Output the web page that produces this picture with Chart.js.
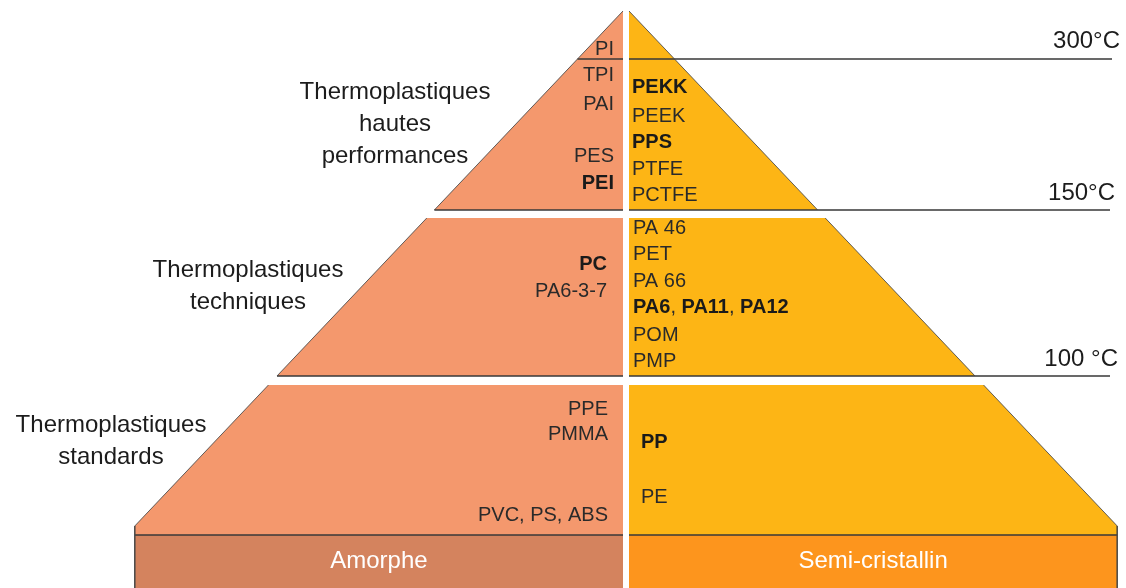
<!DOCTYPE html>
<html>
<head>
<meta charset="utf-8">
<script src="https://cdn.jsdelivr.net/npm/chart.js@4.4.1/dist/chart.umd.min.js"></script>
<style>
  html, body { margin: 0; padding: 0; background: #ffffff; }
  #wrap { width: 1126px; height: 588px; position: relative; }
</style>
</head>
<body>
<div id="wrap"><canvas id="c"></canvas></div>
<script>
// ---------- DATA ----------
const categoryLines = [
  ['Thermoplastiques', 'hautes', 'performances'],
  ['Thermoplastiques', 'techniques'],
  ['Thermoplastiques', 'standards']
];
const temperatureLabels = ['300°C', '150°C', '100 °C'];
const morphologies = ['Amorphe', 'Semi-cristallin'];
// *text* = bold
const amorphousPolymers = ['PI', 'TPI', 'PAI', 'PES', '*PEI*', '*PC*', 'PA6-3-7', 'PPE', 'PMMA', 'PVC, PS, ABS'];
const amorphousTier = [0, 0, 0, 0, 0, 1, 1, 2, 2, 2];
const semiCrystallinePolymers = ['*PEKK*', 'PEEK', '*PPS*', 'PTFE', 'PCTFE', 'PA 46', 'PET', 'PA 66',
  '*PA6*, *PA11*, *PA12*', 'POM', 'PMP', '*PP*', 'PE'];
const semiCrystallineTier = [0, 0, 0, 0, 0, 1, 1, 1, 1, 1, 1, 2, 2];

// ---------- LAYOUT (diagram units = canvas px) ----------
const L = {
  apexY: 11, baseY: 526, leftApexX: 623, rightApexX: 629, slope: 0.948,
  tierTop: [11, 218, 385], tierBottom: [210, 376, 526],
  bandTop: 535, bandBottom: 588,
  tempLineY: [59, 210, 376], tempLineEnd: [1112, 1110, 1110],
  tempLabelRightX: [1120, 1115, 1118], tempLabelY: [41.5, 193, 359],
  amorphousRowY: [49, 75, 104, 156, 183, 264.5, 291, 409, 434.5, 515.5],
  semiRowY: [87.5, 116, 142, 169, 195.5, 228, 254.5, 281.5, 307.5, 335.5, 361, 442, 497],
  colRightX: [614, 607, 608], colLeftX: [632, 633, 641],
  catCenterX: [395, 248, 111], catFirstY: [92, 270, 425], catLineH: 32,
  bandLabelY: 561
};
const colors = {
  amorphous: '#F4986D', semi: '#FDB515',
  amorphousBand: '#D4835E', semiBand: '#FD951D',
  line: '#383838', edge: 'rgba(70,70,70,0.85)', text: '#2a2a2a', cat: '#1c1c1c'
};

const xL = y => L.leftApexX - (y - L.apexY) * L.slope;
const xR = y => L.rightApexX + (y - L.apexY) * L.slope;
const P = (x, y) => ({x, y});
const BREAK = {x: 626, y: null};

const datasets = [];
function poly(points, color) {
  datasets.push({
    data: points.concat([points[0]]), backgroundColor: color, borderColor: 'transparent',
    borderWidth: 0, fill: 'shape', pointRadius: 0, tension: 0, order: 3
  });
}
function stroke(points, color, width) {
  datasets.push({
    data: points, borderColor: color, borderWidth: width, fill: false,
    pointRadius: 0, tension: 0, spanGaps: false, order: 1, borderCapStyle: 'butt'
  });
}

// pyramid tiers
for (let t = 0; t < 3; t++) {
  const top = L.tierTop[t], bot = L.tierBottom[t];
  if (t < 2) {
    poly([P(xL(top), top), P(L.leftApexX, top), P(L.leftApexX, bot), P(xL(bot), bot)], colors.amorphous);
    poly([P(L.rightApexX, top), P(xR(top), top), P(xR(bot), bot), P(L.rightApexX, bot)], colors.semi);
  } else {
    poly([P(xL(top), top), P(L.leftApexX, top), P(L.leftApexX, L.bandTop), P(xL(bot), L.bandTop), P(xL(bot), bot)], colors.amorphous);
    poly([P(L.rightApexX, top), P(xR(top), top), P(xR(bot), bot), P(xR(bot), L.bandTop), P(L.rightApexX, L.bandTop)], colors.semi);
  }
}
// base band
poly([P(xL(L.baseY), L.bandTop), P(L.leftApexX, L.bandTop), P(L.leftApexX, L.bandBottom), P(xL(L.baseY), L.bandBottom)], colors.amorphousBand);
poly([P(L.rightApexX, L.bandTop), P(xR(L.baseY), L.bandTop), P(xR(L.baseY), L.bandBottom), P(L.rightApexX, L.bandBottom)], colors.semiBand);

// slanted outlines
stroke([P(xL(L.tierTop[0]), L.tierTop[0]), P(xL(L.tierBottom[0]), L.tierBottom[0]), BREAK,
        P(xL(L.tierTop[1]), L.tierTop[1]), P(xL(L.tierBottom[1]), L.tierBottom[1]), BREAK,
        P(xL(L.tierTop[2]), L.tierTop[2]), P(xL(L.baseY), L.baseY), P(xL(L.baseY), L.bandBottom)], colors.edge, 1);
stroke([P(xR(L.tierTop[0]), L.tierTop[0]), P(xR(L.tierBottom[0]), L.tierBottom[0]), {x: 1000, y: null},
        P(xR(L.tierTop[1]), L.tierTop[1]), P(xR(L.tierBottom[1]), L.tierBottom[1]), {x: 1100, y: null},
        P(xR(L.tierTop[2]), L.tierTop[2]), P(xR(L.baseY), L.baseY), P(xR(L.baseY), L.bandBottom)], colors.edge, 1);

// temperature lines
for (let i = 0; i < 3; i++) {
  const y = L.tempLineY[i];
  stroke([P(xL(y), y), P(L.leftApexX, y), BREAK, P(L.rightApexX, y), P(L.tempLineEnd[i], y)], colors.line, 1.5);
}
// band top line
stroke([P(xL(L.baseY), L.bandTop), P(L.leftApexX, L.bandTop), BREAK, P(L.rightApexX, L.bandTop), P(xR(L.baseY), L.bandTop)], colors.line, 1.5);

// ---------- text helpers ----------
const FONT = '"Liberation Sans", Arial, sans-serif';
function runs(s) {
  const parts = s.split('*');
  return parts.map((t, i) => ({t, b: i % 2 === 1})).filter(r => r.t.length);
}
function drawRich(ctx, s, x, y, align, size) {
  const rs = runs(s);
  let w = 0;
  rs.forEach(r => { ctx.font = (r.b ? 'bold ' : '') + size + 'px ' + FONT; r.w = ctx.measureText(r.t).width; w += r.w; });
  let cx = align === 'right' ? x - w : x;
  ctx.textAlign = 'left';
  rs.forEach(r => {
    ctx.font = (r.b ? 'bold ' : '') + size + 'px ' + FONT;
    ctx.fillStyle = r.b ? '#1a1a1a' : colors.text;
    ctx.fillText(r.t, cx, y);
    cx += r.w;
  });
}

const textPlugin = {
  id: 'pyramidText',
  afterDatasetsDraw(chart) {
    const ctx = chart.ctx, sx = chart.scales.x, sy = chart.scales.y;
    ctx.save();
    ctx.textBaseline = 'middle';
    // categories
    ctx.fillStyle = colors.cat;
    ctx.font = '24px ' + FONT;
    ctx.textAlign = 'center';
    categoryLines.forEach((lines, i) => {
      lines.forEach((ln, j) => {
        ctx.fillText(ln, sx.getPixelForValue(L.catCenterX[i]), sy.getPixelForValue(L.catFirstY[i] + j * L.catLineH));
      });
    });
    // temperatures
    ctx.textAlign = 'right';
    ctx.fillStyle = colors.cat;
    temperatureLabels.forEach((t, i) => {
      ctx.fillText(t, sx.getPixelForValue(L.tempLabelRightX[i]), sy.getPixelForValue(L.tempLabelY[i]));
    });
    // polymers
    amorphousPolymers.forEach((p, i) => {
      drawRich(ctx, p, sx.getPixelForValue(L.colRightX[amorphousTier[i]]), sy.getPixelForValue(L.amorphousRowY[i]), 'right', 20);
    });
    semiCrystallinePolymers.forEach((p, i) => {
      drawRich(ctx, p, sx.getPixelForValue(L.colLeftX[semiCrystallineTier[i]]), sy.getPixelForValue(L.semiRowY[i]), 'left', 20);
    });
    // band labels
    ctx.fillStyle = '#ffffff';
    ctx.font = '24px ' + FONT;
    ctx.textAlign = 'center';
    const centers = [(xL(L.baseY) + L.leftApexX) / 2, (L.rightApexX + xR(L.baseY)) / 2];
    morphologies.forEach((m, i) => {
      ctx.fillText(m, sx.getPixelForValue(centers[i]), sy.getPixelForValue(L.bandLabelY));
    });
    ctx.restore();
  }
};

new Chart(document.getElementById('c'), {
  type: 'line',
  data: { datasets },
  options: {
    responsive: true, maintainAspectRatio: false, animation: false,
    parsing: true,
    layout: { padding: 0 },
    scales: {
      x: { type: 'linear', min: 0, max: 1126, display: false },
      y: { type: 'linear', min: 0, max: 588, reverse: true, display: false }
    },
    plugins: { legend: { display: false }, tooltip: { enabled: false } },
    elements: { line: { tension: 0 } }
  },
  plugins: [textPlugin]
});
</script>
</body>
</html>
